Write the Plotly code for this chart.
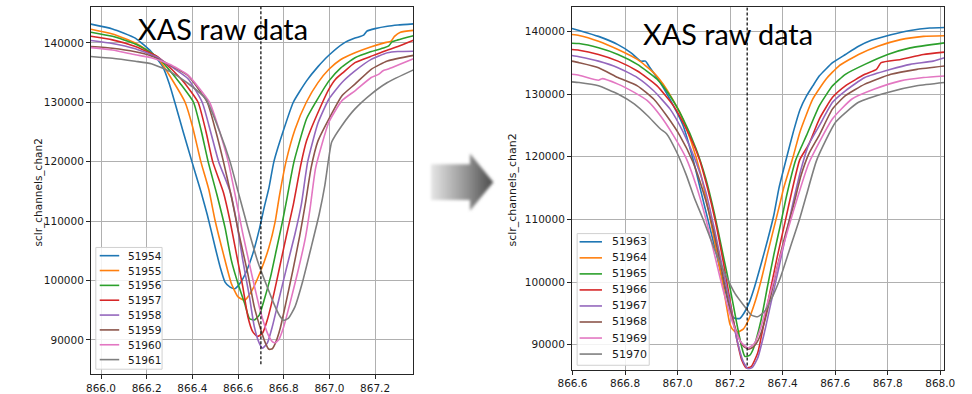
import base64
import plotly.graph_objects as go

W, H = 972, 394

# ---------------- data ----------------
left_runs = ["51954", "51955", "51956", "51957", "51958", "51959", "51960", "51961"]
right_runs = ["51963", "51964", "51965", "51966", "51967", "51968", "51969", "51970"]
colors = ["#1f77b4", "#ff7f0e", "#2ca02c", "#d62728", "#9467bd", "#8c564b", "#e377c2", "#7f7f7f"]

x_ticks_left = [866.0, 866.2, 866.4, 866.6, 866.8, 867.0, 867.2]
x_ticks_right = [866.6, 866.8, 867.0, 867.2, 867.4, 867.6, 867.8, 868.0]
y_ticks = [90000, 100000, 110000, 120000, 130000, 140000]
left_marker_energy = 866.70
right_marker_energy = 867.265

# left panel
x_51954 = [865.956, 866.05, 866.15, 866.22, 866.27, 866.30, 866.323, 866.36, 866.398, 866.437, 866.465, 866.50, 866.522, 866.543, 866.565, 866.586, 866.607, 866.635, 866.664, 866.693, 866.714, 866.735, 866.757, 866.80, 866.842, 866.90, 866.95, 867.00, 867.065, 867.112, 867.15, 867.165, 867.20, 867.254, 867.30, 867.368]
y_51954 = [143150, 142350, 140800, 138500, 136000, 133000, 130000, 125000, 120000, 115000, 111100, 105550, 102200, 99720, 98880, 98600, 99430, 101380, 104430, 108600, 112220, 115550, 120000, 125400, 130000, 133600, 136000, 138000, 140000, 140800, 141300, 142000, 142400, 142800, 143000, 143200]

x_51955 = [865.956, 866.05, 866.15, 866.22, 866.25, 866.30, 866.368, 866.40, 866.437, 866.472, 866.50, 866.536, 866.571, 866.60, 866.629, 866.657, 866.70, 866.735, 866.763, 866.78, 866.81, 866.85, 866.899, 866.95, 866.998, 867.05, 867.112, 867.18, 867.24, 867.27, 867.285, 867.311, 867.368]
y_51955 = [142300, 141500, 140000, 138300, 137400, 134500, 130000, 126000, 120000, 115300, 110000, 104430, 99430, 97220, 96670, 98050, 101670, 105550, 110000, 114000, 120000, 125500, 130000, 133300, 135550, 137200, 138330, 139300, 140000, 140300, 141100, 141800, 142100]

x_51956 = [865.956, 866.05, 866.15, 866.22, 866.25, 866.30, 866.35, 866.405, 866.44, 866.469, 866.507, 866.543, 866.571, 866.60, 866.629, 866.65, 866.671, 866.693, 866.714, 866.742, 866.77, 866.795, 866.815, 866.845, 866.90, 866.94, 866.998, 867.05, 867.112, 867.18, 867.24, 867.26, 867.275, 867.30, 867.368]
y_51956 = [141800, 141100, 139800, 138300, 137500, 135400, 133000, 130000, 125000, 120000, 114500, 108880, 103330, 99440, 96100, 93600, 93330, 94170, 96670, 100550, 105550, 110000, 114000, 120000, 127220, 130000, 133600, 135800, 137500, 138500, 139170, 139500, 140200, 140500, 141200]

x_51957 = [865.956, 866.05, 866.15, 866.22, 866.25, 866.30, 866.36, 866.425, 866.46, 866.489, 866.536, 866.565, 866.593, 866.621, 866.643, 866.664, 866.685, 866.707, 866.728, 866.757, 866.785, 866.813, 866.842, 866.875, 866.90, 866.97, 866.998, 867.027, 867.06, 867.112, 867.18, 867.24, 867.30, 867.368]
y_51957 = [141100, 140500, 139400, 138200, 137600, 135900, 133500, 130000, 125000, 120000, 114800, 110000, 104430, 98880, 93880, 91380, 90550, 91100, 93330, 97770, 102770, 107770, 112770, 119500, 123500, 130000, 132220, 133880, 135000, 136670, 137700, 138600, 139400, 140440]

x_51958 = [865.956, 866.05, 866.15, 866.22, 866.25, 866.30, 866.38, 866.443, 866.48, 866.515, 866.565, 866.593, 866.621, 866.65, 866.671, 866.693, 866.707, 866.728, 866.75, 866.778, 866.813, 866.849, 866.877, 866.905, 866.95, 866.998, 867.055, 867.112, 867.183, 867.254, 867.30, 867.368]
y_51958 = [140400, 139900, 139000, 138000, 137500, 136200, 134000, 130000, 125000, 120000, 115000, 110000, 103330, 97220, 92220, 89440, 88600, 89440, 92220, 96670, 102220, 107770, 112770, 120000, 126500, 130550, 133330, 135280, 137220, 138330, 138550, 138600]

x_51959 = [865.956, 866.05, 866.15, 866.22, 866.25, 866.30, 866.38, 866.465, 866.50, 866.536, 866.572, 866.60, 866.643, 866.671, 866.70, 866.72, 866.735, 866.75, 866.763, 866.785, 866.81, 866.84, 866.87, 866.895, 866.92, 866.95, 866.998, 867.055, 867.112, 867.183, 867.254, 867.368]
y_51959 = [139400, 139100, 138500, 137800, 137300, 136300, 134500, 130000, 125500, 120000, 113880, 108500, 101100, 95550, 91670, 89440, 88400, 88500, 89400, 92000, 96300, 101700, 107500, 113000, 119000, 123500, 127220, 131100, 133050, 135550, 136940, 137890]

x_51960 = [865.956, 866.05, 866.15, 866.22, 866.30, 866.38, 866.475, 866.52, 866.557, 866.59, 866.62, 866.66, 866.70, 866.73, 866.75, 866.762, 866.778, 866.80, 866.827, 866.863, 866.895, 866.915, 866.94, 866.998, 867.055, 867.112, 867.183, 867.215, 867.235, 867.254, 867.368]
y_51960 = [139200, 138800, 138000, 137500, 136400, 134600, 130000, 125000, 120000, 113880, 108000, 101000, 94500, 91000, 89700, 89500, 90000, 92200, 96100, 101670, 107220, 112000, 119000, 126670, 130270, 131930, 134170, 134700, 135300, 135550, 137330]

x_51961 = [865.956, 866.05, 866.15, 866.22, 866.30, 866.38, 866.46, 866.52, 866.565, 866.60, 866.643, 866.685, 866.728, 866.763, 866.785, 866.799, 866.82, 866.849, 866.884, 866.92, 866.955, 866.98, 866.998, 867.01, 867.055, 867.112, 867.183, 867.254, 867.368]
y_51961 = [137700, 137400, 136900, 136500, 135200, 133200, 130500, 125000, 120000, 115000, 108880, 103330, 98880, 95550, 93880, 93300, 93600, 95550, 100000, 105550, 111100, 116000, 120800, 123300, 126100, 128880, 131380, 133330, 135450]

# right panel
x_51963 = [866.598, 866.625, 866.699, 866.773, 866.823, 866.86, 866.878, 866.891, 866.934, 866.984, 867.021, 867.058, 867.089, 867.12, 867.157, 867.188, 867.206, 867.219, 867.237, 867.256, 867.274, 867.293, 867.318, 867.342, 867.367, 867.386, 867.416, 867.441, 867.466, 867.491, 867.515, 867.54, 867.565, 867.59, 867.639, 867.689, 867.738, 867.812, 867.886, 867.96, 868.016]
y_51963 = [140470, 140150, 139200, 137890, 136580, 135250, 135250, 134460, 131840, 128150, 124990, 119730, 114470, 109200, 102880, 97630, 94740, 94200, 94200, 95260, 96840, 99210, 102880, 106580, 110780, 115000, 120000, 124000, 127500, 129700, 131300, 132900, 134000, 135000, 136310, 137620, 138570, 139470, 140150, 140530, 140620]

x_51964 = [866.598, 866.625, 866.699, 866.773, 866.847, 866.909, 866.958, 867.008, 867.052, 867.089, 867.12, 867.15, 867.175, 867.2, 867.215, 867.23, 867.25, 867.27, 867.293, 867.318, 867.342, 867.367, 867.392, 867.404, 867.44, 867.466, 867.515, 867.565, 867.614, 867.689, 867.763, 867.849, 867.936, 868.016]
y_51964 = [139500, 139350, 138420, 137100, 135520, 133420, 130790, 127110, 122370, 117100, 111000, 104500, 99000, 93200, 92200, 92050, 92500, 93950, 96570, 100260, 104460, 108680, 112900, 115000, 120000, 123950, 129210, 132360, 134470, 136310, 137620, 138680, 139200, 139310]

x_51965 = [866.598, 866.625, 866.699, 866.773, 866.847, 866.922, 866.971, 867.021, 867.07, 867.107, 867.14, 867.17, 867.2, 867.225, 867.245, 867.256, 867.274, 867.287, 867.299, 867.318, 867.342, 867.367, 867.392, 867.416, 867.45, 867.491, 867.54, 867.59, 867.639, 867.713, 867.8, 867.886, 868.016]
y_51965 = [138100, 138050, 137370, 136310, 134730, 132360, 129730, 126050, 121320, 116580, 111000, 105000, 99000, 93500, 89500, 88150, 88300, 89210, 90790, 93950, 99210, 104460, 109200, 113940, 119500, 123410, 128150, 131310, 133150, 134730, 136310, 137370, 138160]

x_51966 = [866.598, 866.625, 866.699, 866.773, 866.847, 866.922, 866.984, 867.033, 867.082, 867.114, 867.145, 867.175, 867.2, 867.225, 867.245, 867.262, 867.28, 867.305, 867.324, 867.348, 867.379, 867.41, 867.435, 867.465, 867.5, 867.54, 867.59, 867.639, 867.713, 867.757, 867.775, 867.849, 867.936, 868.016]
y_51966 = [137100, 137000, 136310, 135250, 133670, 131310, 128150, 124460, 119730, 115000, 109500, 103000, 97000, 91000, 87500, 86300, 86500, 88670, 92370, 97630, 103940, 109730, 114470, 119500, 122000, 126050, 129470, 131310, 133150, 133940, 135000, 135520, 136310, 136680]

x_51967 = [866.598, 866.625, 866.699, 866.773, 866.847, 866.909, 866.971, 867.021, 867.07, 867.107, 867.14, 867.17, 867.2, 867.225, 867.25, 867.268, 867.285, 867.305, 867.33, 867.355, 867.386, 867.416, 867.441, 867.47, 867.5, 867.54, 867.59, 867.639, 867.713, 867.812, 867.886, 867.973, 868.016]
y_51967 = [136150, 135950, 135250, 134210, 132630, 130520, 127630, 123950, 119210, 114470, 108500, 102500, 96500, 91000, 87300, 86150, 86400, 87880, 91830, 96570, 102360, 108160, 112900, 118000, 122000, 124990, 128680, 130520, 132630, 133940, 134730, 135250, 135790]

x_51968 = [866.598, 866.625, 866.699, 866.773, 866.847, 866.909, 866.958, 867.008, 867.058, 867.101, 867.135, 867.165, 867.195, 867.225, 867.25, 867.27, 867.29, 867.31, 867.33, 867.355, 867.38, 867.41, 867.44, 867.47, 867.5, 867.54, 867.59, 867.639, 867.713, 867.812, 867.911, 868.016]
y_51968 = [135250, 135000, 134210, 132630, 131310, 129210, 126570, 123410, 119210, 113940, 108500, 102500, 96500, 92000, 89800, 89300, 89700, 91000, 93500, 97800, 102500, 107500, 112000, 117000, 120500, 123500, 127630, 129730, 131580, 133150, 133940, 134470]

x_51969 = [866.598, 866.625, 866.699, 866.712, 866.773, 866.835, 866.885, 866.934, 866.984, 867.033, 867.07, 867.105, 867.14, 867.175, 867.21, 867.24, 867.268, 867.293, 867.318, 867.342, 867.373, 867.404, 867.441, 867.46, 867.5, 867.59, 867.664, 867.75, 867.849, 867.936, 868.016]
y_51969 = [133150, 133000, 132210, 132450, 131580, 130260, 128940, 126570, 123410, 119730, 115520, 110500, 104500, 98500, 93500, 90500, 89460, 90250, 92890, 96570, 101310, 106040, 111320, 113940, 119000, 126050, 129210, 130790, 132100, 132630, 132890]

x_51970 = [866.598, 866.625, 866.699, 866.773, 866.835, 866.885, 866.934, 866.958, 866.996, 867.033, 867.064, 867.095, 867.138, 867.181, 867.219, 867.256, 867.281, 867.305, 867.33, 867.355, 867.392, 867.429, 867.466, 867.491, 867.53, 867.602, 867.689, 867.8, 867.911, 868.016]
y_51970 = [131940, 131840, 131310, 130000, 128420, 126570, 124460, 123680, 120790, 117100, 113420, 110260, 105520, 101310, 98150, 96050, 94740, 94470, 95260, 97100, 100780, 105520, 110260, 113940, 119500, 125530, 128680, 130260, 131310, 131840]

left_x = [x_51954, x_51955, x_51956, x_51957, x_51958, x_51959, x_51960, x_51961]
left_y = [y_51954, y_51955, y_51956, y_51957, y_51958, y_51959, y_51960, y_51961]
right_x = [x_51963, x_51964, x_51965, x_51966, x_51967, x_51968, x_51969, x_51970]
right_y = [y_51963, y_51964, y_51965, y_51966, y_51967, y_51968, y_51969, y_51970]

# ---------------- helpers ----------------
def fx(p):
    return p / W


def fy(p):
    return 1 - p / H


FONT = "DejaVu Sans"
TXT = "#1a1a1a"

fig = go.Figure()

for run, xs, ys, c in zip(left_runs, left_x, left_y, colors):
    fig.add_trace(go.Scatter(x=xs, y=ys, mode="lines", name=run, xaxis="x", yaxis="y",
                             line=dict(color=c, width=1.6, shape="spline", smoothing=0.5),
                             showlegend=False, hoverinfo="skip"))
for run, xs, ys, c in zip(right_runs, right_x, right_y, colors):
    fig.add_trace(go.Scatter(x=xs, y=ys, mode="lines", name=run, xaxis="x2", yaxis="y2",
                             line=dict(color=c, width=1.6, shape="spline", smoothing=0.5),
                             showlegend=False, hoverinfo="skip"))

axis_common = dict(showgrid=True, gridcolor="#b0b0b0", gridwidth=0.8, showline=True, mirror=True,
                   linecolor="#262626", linewidth=1, ticks="outside", ticklen=4, tickwidth=1,
                   tickcolor="#262626", tickfont=dict(family=FONT, size=10.5, color=TXT), zeroline=False)

fig.update_layout(
    width=W, height=H, margin=dict(l=0, r=0, t=0, b=0),
    paper_bgcolor="white", plot_bgcolor="white", showlegend=False,
    xaxis=dict(domain=[fx(79), fx(410)], range=[865.956, 867.368], anchor="y",
               tickvals=x_ticks_left, ticktext=[f"{v:.1f}" for v in x_ticks_left], **axis_common),
    yaxis=dict(domain=[fy(378), fy(7)], range=[84217, 146050], anchor="x",
               tickvals=y_ticks, ticktext=[str(v) for v in y_ticks], **axis_common),
    xaxis2=dict(domain=[fx(572.7), fx(955)], range=[866.598, 868.016], anchor="y2",
                tickvals=x_ticks_right, ticktext=[f"{v:.1f}" for v in x_ticks_right], **axis_common),
    yaxis2=dict(domain=[fy(373.3), fy(7.3)], range=[86050, 143850], anchor="x2",
                tickvals=y_ticks, ticktext=[str(v) for v in y_ticks], **axis_common),
)

shapes = []
annotations = []

# dashed marker lines
shapes.append(dict(type="line", xref="x", yref="y", x0=left_marker_energy, x1=left_marker_energy,
                   y0=85900, y1=146050, line=dict(color="black", width=1.2, dash="3px,2px"), layer="above"))
shapes.append(dict(type="line", xref="x2", yref="y2", x0=right_marker_energy, x1=right_marker_energy,
                   y0=86700, y1=143850, line=dict(color="black", width=1.2, dash="3px,2px"), layer="above"))


def add_legend(runs, box, line_x0, line_x1, text_x, row0, step, fsize):
    bx0, by0, bx1, by1 = box
    shapes.append(dict(type="rect", xref="paper", yref="paper", x0=fx(bx0), x1=fx(bx1), y0=fy(by1), y1=fy(by0),
                       line=dict(color="#d0d0d0", width=1), fillcolor="rgba(255,255,255,0.85)", layer="above"))
    for i, (run, c) in enumerate(zip(runs, colors)):
        yy = row0 + i * step
        shapes.append(dict(type="line", xref="paper", yref="paper", x0=fx(line_x0), x1=fx(line_x1),
                           y0=fy(yy), y1=fy(yy), line=dict(color=c, width=1.6), layer="above"))
        annotations.append(dict(xref="paper", yref="paper", x=fx(text_x), y=fy(yy), text=run, showarrow=False,
                                xanchor="left", yanchor="middle", font=dict(family=FONT, size=fsize, color=TXT)))


add_legend(left_runs, (84, 250, 152, 373), 88, 108, 115, 258.3, 15.0, 10.5)
add_legend(right_runs, (578, 236, 652, 369), 580.5, 603.5, 611.5, 244.3, 16.2, 11)

# titles
annotations.append(dict(xref="paper", yref="paper", x=fx(215), y=fy(29), text="XAS raw data", showarrow=False,
                        xanchor="center", yanchor="middle", font=dict(family="Lato", size=28.8, color="black")))
annotations.append(dict(xref="paper", yref="paper", x=fx(732.5), y=fy(34), text="XAS raw data", showarrow=False,
                        xanchor="center", yanchor="middle", font=dict(family="Lato", size=28.8, color="black")))

# y axis labels
annotations.append(dict(xref="paper", yref="paper", x=fx(25), y=fy(194), text="sclr_channels_chan2",
                        showarrow=False, textangle=-90, xanchor="center", yanchor="middle",
                        font=dict(family=FONT, size=10.5, color=TXT)))
annotations.append(dict(xref="paper", yref="paper", x=fx(511.7), y=fy(192), text="sclr_channels_chan2",
                        showarrow=False, textangle=-90, xanchor="center", yanchor="middle",
                        font=dict(family=FONT, size=11, color=TXT)))

fig.update_layout(shapes=shapes, annotations=annotations)

# gradient arrow between the panels
svg = """<svg xmlns="http://www.w3.org/2000/svg" width="72" height="66" viewBox="0 0 72 66">
<defs>
<linearGradient id="g" x1="0" y1="0" x2="1" y2="0">
<stop offset="0" stop-color="#e6e6e6"/>
<stop offset="0.6" stop-color="#8e8e8e"/>
<stop offset="1" stop-color="#4a4a4a"/>
</linearGradient>
<filter id="b" x="-20%" y="-20%" width="140%" height="140%"><feGaussianBlur stdDeviation="1.6"/></filter>
</defs>
<polygon points="3,15 43,15 43,4 67,33 43,62 43,51 3,51" fill="url(#g)" filter="url(#b)"/>
</svg>"""
src = "data:image/svg+xml;base64," + base64.b64encode(svg.encode()).decode()
fig.add_layout_image(dict(source=src, xref="paper", yref="paper", x=fx(425), y=fy(151),
                          sizex=72 / W, sizey=66 / H, xanchor="left", yanchor="top",
                          sizing="stretch", layer="above"))

fig.write_html("out.html")
